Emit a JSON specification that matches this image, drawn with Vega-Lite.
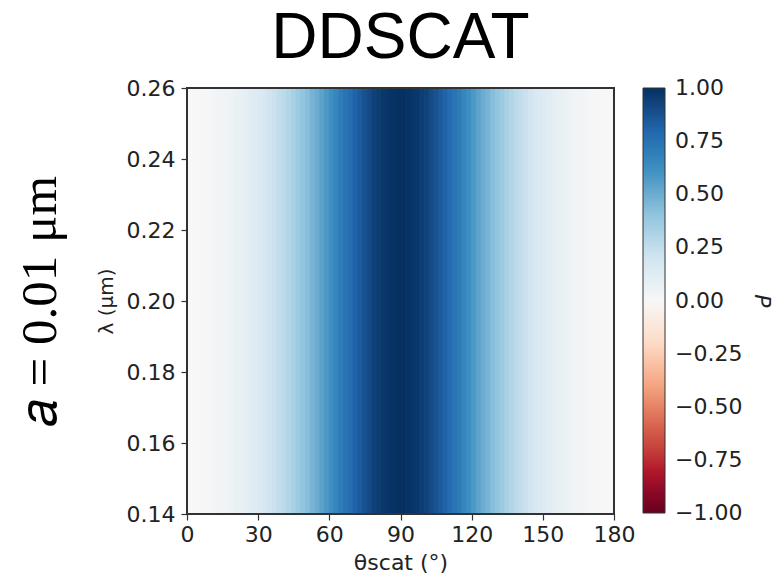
{
  "$schema": "https://vega.github.io/schema/vega-lite/v6.json",
  "width": 427,
  "height": 426,
  "autosize": {"type": "none"},
  "padding": {"left": 187, "top": 88, "right": 168, "bottom": 71},
  "background": "white",
  "title": {"text": "DDSCAT", "font": "Liberation Sans", "fontSize": 64, "fontWeight": "normal", "color": "#000000", "anchor": "middle", "offset": 6},
  "config": {
    "view": {"stroke": null},
    "axis": {"labelFont": "DejaVu Sans", "labelFontSize": 22, "labelColor": "#222222", "titleFont": "DejaVu Sans", "titleFontWeight": "normal", "titleColor": "#222222", "domain": false, "tickColor": "#333333", "tickSize": 6, "tickWidth": 1.2, "grid": false, "labelPadding": 6, "labelFlush": false, "labelOverlap": false},
    "legend": {"labelFont": "DejaVu Sans", "labelFontSize": 22, "labelColor": "#222222", "titleFont": "DejaVu Sans"}
  },
  "data": {"values": [
    {"t0":0,"t1":2,"p":0.00},{"t0":2,"t1":4,"p":0.00},{"t0":4,"t1":6,"p":0.00},{"t0":6,"t1":8,"p":0.01},{"t0":8,"t1":10,"p":0.01},
    {"t0":10,"t1":12,"p":0.02},{"t0":12,"t1":14,"p":0.03},{"t0":14,"t1":16,"p":0.03},{"t0":16,"t1":18,"p":0.04},{"t0":18,"t1":20,"p":0.06},
    {"t0":20,"t1":22,"p":0.07},{"t0":22,"t1":24,"p":0.08},{"t0":24,"t1":26,"p":0.10},{"t0":26,"t1":28,"p":0.11},{"t0":28,"t1":30,"p":0.13},
    {"t0":30,"t1":32,"p":0.15},{"t0":32,"t1":34,"p":0.17},{"t0":34,"t1":36,"p":0.20},{"t0":36,"t1":38,"p":0.22},{"t0":38,"t1":40,"p":0.25},
    {"t0":40,"t1":42,"p":0.27},{"t0":42,"t1":44,"p":0.30},{"t0":44,"t1":46,"p":0.33},{"t0":46,"t1":48,"p":0.37},{"t0":48,"t1":50,"p":0.40},
    {"t0":50,"t1":52,"p":0.43},{"t0":52,"t1":54,"p":0.47},{"t0":54,"t1":56,"p":0.50},{"t0":56,"t1":58,"p":0.54},{"t0":58,"t1":60,"p":0.58},
    {"t0":60,"t1":62,"p":0.62},{"t0":62,"t1":64,"p":0.66},{"t0":64,"t1":66,"p":0.70},{"t0":66,"t1":68,"p":0.74},{"t0":68,"t1":70,"p":0.77},
    {"t0":70,"t1":72,"p":0.81},{"t0":72,"t1":74,"p":0.84},{"t0":74,"t1":76,"p":0.87},{"t0":76,"t1":78,"p":0.90},{"t0":78,"t1":80,"p":0.93},
    {"t0":80,"t1":82,"p":0.95},{"t0":82,"t1":84,"p":0.97},{"t0":84,"t1":86,"p":0.98},{"t0":86,"t1":88,"p":0.99},{"t0":88,"t1":90,"p":1.00},
    {"t0":90,"t1":92,"p":1.00},{"t0":92,"t1":94,"p":0.99},{"t0":94,"t1":96,"p":0.98},{"t0":96,"t1":98,"p":0.97},{"t0":98,"t1":100,"p":0.95},
    {"t0":100,"t1":102,"p":0.93},{"t0":102,"t1":104,"p":0.90},{"t0":104,"t1":106,"p":0.87},{"t0":106,"t1":108,"p":0.84},{"t0":108,"t1":110,"p":0.81},
    {"t0":110,"t1":112,"p":0.77},{"t0":112,"t1":114,"p":0.74},{"t0":114,"t1":116,"p":0.70},{"t0":116,"t1":118,"p":0.66},{"t0":118,"t1":120,"p":0.62},
    {"t0":120,"t1":122,"p":0.58},{"t0":122,"t1":124,"p":0.54},{"t0":124,"t1":126,"p":0.50},{"t0":126,"t1":128,"p":0.47},{"t0":128,"t1":130,"p":0.43},
    {"t0":130,"t1":132,"p":0.40},{"t0":132,"t1":134,"p":0.37},{"t0":134,"t1":136,"p":0.33},{"t0":136,"t1":138,"p":0.30},{"t0":138,"t1":140,"p":0.27},
    {"t0":140,"t1":142,"p":0.25},{"t0":142,"t1":144,"p":0.22},{"t0":144,"t1":146,"p":0.20},{"t0":146,"t1":148,"p":0.17},{"t0":148,"t1":150,"p":0.15},
    {"t0":150,"t1":152,"p":0.13},{"t0":152,"t1":154,"p":0.11},{"t0":154,"t1":156,"p":0.10},{"t0":156,"t1":158,"p":0.08},{"t0":158,"t1":160,"p":0.07},
    {"t0":160,"t1":162,"p":0.06},{"t0":162,"t1":164,"p":0.04},{"t0":164,"t1":166,"p":0.03},{"t0":166,"t1":168,"p":0.03},{"t0":168,"t1":170,"p":0.02},
    {"t0":170,"t1":172,"p":0.01},{"t0":172,"t1":174,"p":0.01},{"t0":174,"t1":176,"p":0.00},{"t0":176,"t1":178,"p":0.00},{"t0":178,"t1":180,"p":0.00}
  ]},
  "layer": [
    {
      "mark": {"type": "rect", "strokeWidth": 1},
      "encoding": {
        "x": {"field": "t0", "type": "quantitative", "scale": {"domain": [0, 180], "nice": false, "zero": false},
              "axis": {"values": [0, 30, 60, 90, 120, 150, 180], "title": "θscat (°)", "titleFontSize": 22, "titlePadding": 7, "labelPadding": 4}},
        "x2": {"field": "t1"},
        "y": {"datum": 0.14, "type": "quantitative", "scale": {"domain": [0.14, 0.26], "nice": false, "zero": false},
              "axis": {"values": [0.14, 0.16, 0.18, 0.2, 0.22, 0.24, 0.26], "format": ".2f", "title": "λ (μm)", "titleFontSize": 20, "titlePadding": 10}},
        "y2": {"datum": 0.26},
        "stroke": {"field": "p", "type": "quantitative",
                   "scale": {"domain": [-1, -0.8, -0.6, -0.4, -0.2, 0, 0.2, 0.4, 0.6, 0.8, 1], "range": ["#67001f", "#b2182b", "#d6604d", "#f4a582", "#fddbc7", "#f7f7f7", "#d1e5f0", "#92c5de", "#4393c3", "#2166ac", "#053061"]},
                   "legend": null},
        "color": {"field": "p", "type": "quantitative",
                  "scale": {"domain": [-1, -0.8, -0.6, -0.4, -0.2, 0, 0.2, 0.4, 0.6, 0.8, 1], "range": ["#67001f", "#b2182b", "#d6604d", "#f4a582", "#fddbc7", "#f7f7f7", "#d1e5f0", "#92c5de", "#4393c3", "#2166ac", "#053061"]},
                  "legend": {"title": "P", "titleOrient": "right", "titleFontStyle": "italic", "titleFontWeight": "normal", "titleFontSize": 22, "titleColor": "#222222", "titleAngle": 270, "titleBaseline": "middle", "titlePadding": 20,
                             "gradientLength": 425, "gradientThickness": 22, "gradientStrokeColor": "#333333", "gradientStrokeWidth": 1,
                             "offset": 29, "padding": 0, "labelOffset": 10,
                             "values": [1, 0.75, 0.5, 0.25, 0, -0.25, -0.5, -0.75, -1],
                             "labelExpr": "replace(format(datum.value, '.2f'), '-', '−')",
                             "encode": {"labels": {"update": {"baseline": {"value": "middle"}}}}}}
      }
    },
    {
      "mark": {"type": "rule", "opacity": 0},
      "encoding": {
        "y": {"datum": 0.2, "type": "quantitative", "scale": {"domain": [0.14, 0.26], "nice": false, "zero": false},
              "axis": {"orient": "left", "labels": false, "ticks": false, "domain": false, "title": "𝑎 = 0.01 μm", "titleFont": "Liberation Serif", "titleFontSize": 51, "titleColor": "#000000", "titlePadding": 121}}
      }
    },
    {
      "mark": {"type": "rect", "fill": null, "stroke": "#333333", "strokeWidth": 1.3},
      "encoding": {
        "x": {"datum": 0, "type": "quantitative"},
        "x2": {"datum": 180},
        "y": {"datum": 0.14, "type": "quantitative", "scale": {"domain": [0.14, 0.26], "nice": false, "zero": false}, "axis": null},
        "y2": {"datum": 0.26}
      }
    }
  ],
  "resolve": {"scale": {"y": "independent", "stroke": "independent"}, "axis": {"y": "independent"}}
}
